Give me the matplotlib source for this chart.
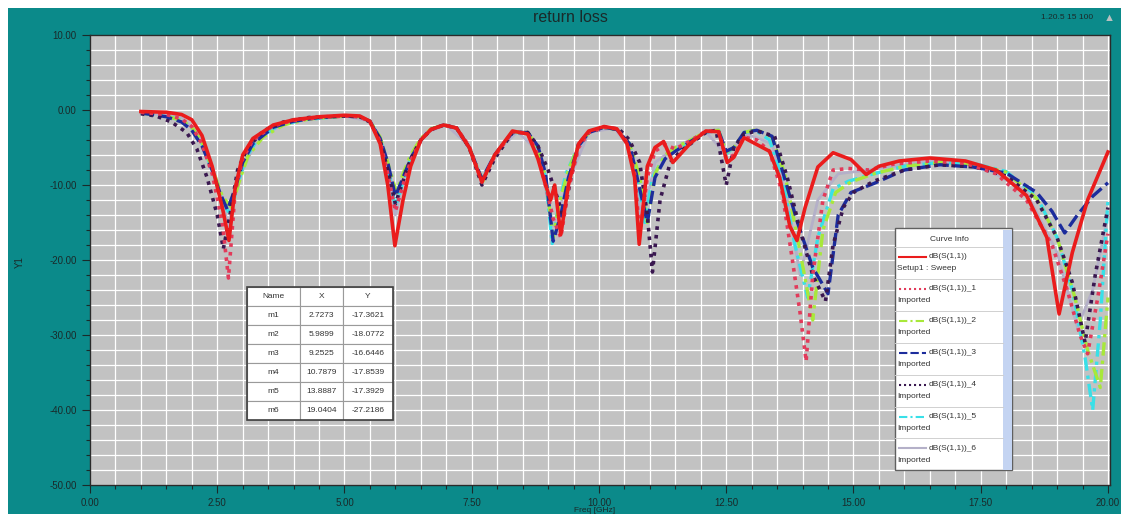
import numpy as np
import matplotlib
matplotlib.use("Agg")
import matplotlib.pyplot as plt
from matplotlib.patches import Rectangle
from matplotlib.lines import Line2D
from matplotlib.ticker import MultipleLocator, FormatStrFormatter

plt.rcParams['font.family'] = ['Liberation Sans', 'DejaVu Sans']

# ---- data (Freq GHz, dB) ----
f_sweep = [1.0, 1.5, 1.8, 2.0, 2.2, 2.4, 2.6, 2.73, 2.85, 3.0, 3.2, 3.6, 4.0, 4.5, 5.0, 5.3, 5.5, 5.7, 5.85, 5.99,
           6.15, 6.3, 6.5, 6.7, 6.95, 7.2, 7.45, 7.7, 7.95, 8.3, 8.6, 8.8, 8.95, 9.05, 9.13, 9.25, 9.4, 9.6, 9.8,
           10.1, 10.35, 10.55, 10.7, 10.79, 10.95, 11.1, 11.27, 11.45, 11.8, 12.1, 12.35, 12.52, 12.65, 12.85,
           13.1, 13.35, 13.55, 13.75, 13.89, 14.05, 14.3, 14.6, 14.95, 15.25, 15.5, 15.9, 16.5, 17.2, 17.8, 18.4,
           18.8, 19.04, 19.3, 19.6, 20.0]
db_sweep = [-0.2, -0.3, -0.6, -1.3, -3.4, -7.5, -13.0, -17.4, -10.5, -6.0, -3.8, -2.0, -1.3, -0.9, -0.7, -0.8,
            -1.5, -4.5, -10.0, -18.1, -12.0, -7.5, -4.0, -2.6, -2.0, -2.4, -5.0, -9.6, -6.0, -2.8, -3.2, -6.5,
            -10.0, -12.0, -10.0, -16.6, -10.0, -4.5, -2.8, -2.2, -2.5, -4.5, -9.0, -17.9, -7.5, -5.0, -4.2, -7.0,
            -4.4, -2.8, -2.9, -7.0, -6.3, -3.7, -4.6, -5.5, -9.0, -15.5, -17.4, -13.0, -7.6, -5.7, -6.6, -8.6,
            -7.5, -6.8, -6.4, -6.8, -8.0, -11.4, -17.0, -27.2, -19.0, -12.0, -5.6]

f_1 = [1.0, 1.5, 1.8, 2.0, 2.2, 2.4, 2.6, 2.72, 2.85, 3.0, 3.2, 3.6, 4.0, 4.5, 5.0, 5.3, 5.5, 5.7, 5.85, 6.0, 6.15,
       6.3, 6.5, 6.7, 6.95, 7.2, 7.45, 7.7, 7.95, 8.3, 8.6, 8.8, 8.95, 9.1, 9.25, 9.4, 9.6, 9.8, 10.1, 10.35, 10.55,
       10.7, 10.8, 10.95, 11.1, 11.3, 11.5, 11.8, 12.1, 12.35, 12.5, 12.65, 12.85, 13.1, 13.35, 13.6, 13.8, 13.95,
       14.07, 14.2, 14.4, 14.6, 14.9, 15.3, 15.8, 16.5, 17.2, 17.8, 18.4, 18.9, 19.2, 19.45, 19.6, 19.8, 20.0]
db_1 = [-0.3, -0.6, -1.2, -2.2, -4.5, -8.5, -15.0, -22.4, -11.0, -6.5, -4.0, -2.1, -1.4, -1.0, -0.8, -0.9, -1.6,
        -4.2, -8.5, -13.5, -10.0, -6.8, -4.0, -2.6, -2.0, -2.4, -4.8, -9.6, -6.2, -2.9, -3.1, -6.0, -10.0, -14.5,
        -17.0, -10.5, -5.0, -3.0, -2.3, -2.5, -4.3, -8.5, -16.5, -9.0, -5.5, -4.6, -5.2, -4.1, -2.8, -2.9, -6.5,
        -6.0, -3.6, -4.0, -5.5, -11.0, -20.0, -27.0, -33.5, -22.0, -12.0, -8.0, -7.8, -8.0, -7.2, -6.8, -7.1,
        -8.5, -12.0, -18.0, -24.0, -30.0, -32.5, -25.0, -16.5]

f_2 = [1.0, 1.5, 1.8, 2.0, 2.2, 2.4, 2.6, 2.78, 2.92, 3.1, 3.4, 3.8, 4.3, 5.0, 5.3, 5.5, 5.7, 5.85, 6.02, 6.15, 6.3,
       6.5, 6.7, 6.95, 7.2, 7.45, 7.72, 7.95, 8.3, 8.6, 8.8, 8.95, 9.1, 9.22, 9.4, 9.6, 9.8, 10.1, 10.35, 10.6, 10.8,
       10.95, 11.1, 11.3, 11.5, 11.8, 12.1, 12.35, 12.5, 12.65, 12.85, 13.1, 13.4, 13.65, 13.9, 14.2, 14.4, 14.65,
       14.95, 15.4, 16.0, 16.7, 17.4, 18.0, 18.6, 19.0, 19.35, 19.6, 19.85, 20.0]
db_2 = [-0.4, -0.8, -1.4, -2.3, -4.3, -7.8, -11.5, -13.0, -9.8, -6.2, -3.6, -2.0, -1.2, -0.8, -0.9, -1.5, -3.6,
        -7.0, -11.0, -8.5, -6.0, -3.8, -2.5, -2.0, -2.4, -5.0, -9.5, -6.0, -2.9, -3.0, -5.0, -9.0, -17.0, -12.5,
        -8.0, -4.7, -3.0, -2.3, -2.6, -4.5, -9.0, -15.0, -8.5, -6.0, -5.0, -4.0, -2.9, -2.7, -5.6, -5.0, -3.0,
        -2.6, -3.6, -8.5, -17.0, -28.0, -16.0, -11.0, -9.6, -8.5, -7.5, -7.0, -7.3, -8.3, -11.8, -17.0, -25.0,
        -32.0, -37.0, -25.0]

f_3 = [1.0, 1.5, 1.8, 2.0, 2.2, 2.4, 2.55, 2.7, 2.85, 3.0, 3.2, 3.6, 4.0, 4.5, 5.0, 5.3, 5.5, 5.7, 5.85, 6.0, 6.15,
       6.3, 6.5, 6.7, 6.95, 7.2, 7.45, 7.7, 7.95, 8.3, 8.6, 8.8, 8.95, 9.1, 9.25, 9.4, 9.6, 9.8, 10.1, 10.35, 10.6,
       10.75, 10.95, 11.1, 11.3, 11.5, 11.8, 12.1, 12.35, 12.5, 12.65, 12.85, 13.1, 13.4, 13.6, 13.9, 14.2, 14.5,
       14.7, 14.95, 15.4, 16.0, 16.7, 17.35, 18.0, 18.6, 18.9, 19.15, 19.4, 19.7, 20.0]
db_3 = [-0.4, -0.9, -1.6, -2.7, -4.8, -8.0, -11.0, -13.3, -10.5, -7.0, -4.5, -2.3, -1.5, -1.0, -0.8, -0.9, -1.5,
        -3.8, -7.0, -11.5, -9.0, -6.5, -4.0, -2.6, -2.0, -2.4, -5.0, -9.2, -6.0, -3.0, -3.0, -4.8, -8.5, -17.5,
        -14.0, -9.0, -4.8, -3.0, -2.3, -2.6, -4.5, -9.0, -15.0, -9.0, -6.5, -5.5, -4.2, -2.9, -2.8, -5.5, -5.0,
        -3.0, -2.7, -3.5, -8.0, -15.0, -21.0, -24.5, -14.0, -11.0, -9.8, -8.0, -7.3, -7.6, -8.4, -11.0, -13.5,
        -16.4, -14.0, -11.5, -9.7]

f_4 = [1.0, 1.3, 1.6, 1.9, 2.1, 2.3, 2.5, 2.62, 2.75, 2.9, 3.1, 3.4, 3.8, 4.3, 5.0, 5.3, 5.5, 5.7, 5.85, 6.0, 6.15,
       6.3, 6.5, 6.7, 6.95, 7.2, 7.45, 7.7, 7.95, 8.3, 8.6, 8.8, 9.0, 9.15, 9.3, 9.45, 9.6, 9.8, 10.1, 10.4, 10.6,
       10.8, 10.95, 11.05, 11.2, 11.4, 11.6, 11.8, 12.1, 12.3, 12.5, 12.65, 12.85, 13.1, 13.45, 13.7, 13.95, 14.2,
       14.45, 14.6, 14.8, 15.0, 15.4, 16.0, 16.7, 17.4, 18.0, 18.6, 19.0, 19.3, 19.55, 19.75, 20.0]
db_4 = [-0.5, -0.8, -1.6, -3.0, -5.2, -9.0, -14.0, -18.5, -14.0, -8.0, -5.0, -2.8, -1.6, -1.0, -0.8, -0.9, -1.6,
        -4.0, -8.0, -12.5, -9.5, -6.5, -4.0, -2.6, -2.0, -2.4, -5.0, -10.0, -6.5, -3.0, -3.0, -4.8, -8.0, -11.0,
        -14.3, -9.0, -4.5, -3.0, -2.3, -2.6, -4.0, -7.0, -14.0, -21.6, -12.0, -7.0, -5.5, -4.5, -3.0, -2.7, -10.0,
        -5.0, -3.2, -2.8, -3.5, -9.0, -16.0, -22.0, -25.5, -18.0, -13.0, -11.0, -9.5, -8.0, -7.3, -7.6, -8.8,
        -12.0, -17.0, -23.0, -31.0, -22.0, -13.0]

f_5 = [1.0, 1.5, 1.8, 2.0, 2.2, 2.4, 2.6, 2.75, 2.9, 3.05, 3.3, 3.7, 4.2, 5.0, 5.3, 5.5, 5.7, 5.85, 6.0, 6.15, 6.3,
       6.5, 6.7, 6.95, 7.2, 7.45, 7.7, 7.95, 8.3, 8.6, 8.8, 8.95, 9.08, 9.2, 9.35, 9.6, 9.8, 10.1, 10.35, 10.6, 10.75,
       10.9, 11.05, 11.3, 11.5, 11.8, 12.1, 12.35, 12.5, 12.65, 12.85, 13.1, 13.35, 13.6, 13.85, 14.1, 14.3, 14.6,
       14.9, 15.4, 16.0, 16.7, 17.4, 18.0, 18.6, 19.0, 19.3, 19.55, 19.7, 19.85, 20.0]
db_5 = [-0.4, -0.8, -1.4, -2.4, -4.5, -8.0, -12.0, -14.0, -10.0, -6.5, -3.8, -2.1, -1.3, -0.8, -0.9, -1.5, -3.8,
        -7.5, -13.0, -9.5, -6.5, -4.0, -2.6, -2.0, -2.4, -5.0, -9.4, -6.0, -3.0, -3.0, -5.0, -9.0, -17.8, -13.0,
        -8.5, -4.8, -3.0, -2.3, -2.6, -4.5, -8.5, -15.0, -9.0, -6.0, -5.2, -4.2, -2.9, -2.7, -5.8, -5.0, -3.0,
        -2.8, -4.0, -9.0, -18.0, -25.0, -17.0, -10.5, -9.5, -8.5, -7.5, -7.0, -7.2, -8.2, -11.5, -17.0, -24.0,
        -33.0, -40.0, -28.0, -12.0]

f_6 = [1.0, 1.8, 2.2, 2.5, 2.72, 2.9, 3.3, 4.0, 5.0, 5.5, 5.8, 6.0, 6.2, 6.6, 7.0, 7.45, 7.7, 8.0, 8.4, 8.8, 9.1,
       9.4, 9.8, 10.3, 10.6, 10.85, 11.1, 11.5, 12.1, 12.5, 12.9, 13.4, 13.7, 13.95, 14.3, 14.7, 15.3, 16.5, 17.5,
       18.4, 19.0, 19.4, 19.7, 20.0]
db_6 = [-0.3, -1.0, -3.8, -9.5, -15.5, -9.5, -3.6, -1.3, -0.8, -1.5, -6.0, -14.0, -8.0, -3.0, -2.0, -4.8, -9.6,
        -5.5, -2.9, -5.5, -15.5, -9.5, -3.0, -2.4, -5.0, -15.0, -7.0, -5.0, -2.9, -6.0, -3.2, -4.5, -12.0, -22.0,
        -12.0, -8.5, -8.0, -6.8, -7.3, -11.0, -19.0, -29.0, -24.0, -14.0]

marker_names = ['m1', 'm2', 'm3', 'm4', 'm5', 'm6']
marker_x = ['2.7273', '5.9899', '9.2525', '10.7879', '13.8887', '19.0404']
marker_y = ['-17.3621', '-18.0772', '-16.6446', '-17.8539', '-17.3929', '-27.2186']

legend_top = ['dB(S(1,1))', 'dB(S(1,1))_1', 'dB(S(1,1))_2', 'dB(S(1,1))_3',
              'dB(S(1,1))_4', 'dB(S(1,1))_5', 'dB(S(1,1))_6']
legend_bottom = ['Setup1 : Sweep', 'Imported', 'Imported', 'Imported', 'Imported', 'Imported', 'Imported']

# ---- figure ----
W, H = 1129, 516
fig = plt.figure(figsize=(W / 100, H / 100), dpi=100, facecolor='white')


def px(x, y):
    return x / W, 1 - y / H


teal = '#0b8a8a'
fig.add_artist(Rectangle(px(8, 514), 1113 / W, 506 / H, transform=fig.transFigure,
                         facecolor=teal, edgecolor='none', zorder=-5))

ax = fig.add_axes([90 / W, 1 - 485 / H, 1020 / W, 450 / H])
ax.set_facecolor('#c2c2c2')
ax.set_xlim(0, 20.04)
ax.set_ylim(-50, 10)

ax.xaxis.set_major_locator(MultipleLocator(2.5))
ax.xaxis.set_minor_locator(MultipleLocator(0.5))
ax.yaxis.set_major_locator(MultipleLocator(10))
ax.yaxis.set_minor_locator(MultipleLocator(2))
ax.xaxis.set_major_formatter(FormatStrFormatter('%.2f'))
ax.yaxis.set_major_formatter(FormatStrFormatter('%.2f'))
ax.grid(which='both', color='white', lw=0.9)
ax.set_axisbelow(True)
ax.tick_params(which='major', length=6, width=0.8, colors='#1a2a2a', labelsize=7, direction='out')
ax.tick_params(which='minor', length=3, width=0.8, colors='#1a2a2a', direction='out')
for s in ax.spines.values():
    s.set_color('#2a2a2a')
    s.set_linewidth(1.0)

styles = [
    (f_6, db_6, dict(color='#b4b0c8', lw=2.0, ls='-')),
    (f_5, db_5, dict(color='#38e0e8', lw=2.4, ls=(0, (4, 1.5, 1, 1.5)))),
    (f_2, db_2, dict(color='#a8e83a', lw=2.4, ls=(0, (4, 1.5, 1, 1.5)))),
    (f_3, db_3, dict(color='#1c2c9c', lw=2.4, ls=(0, (4, 1.5)))),
    (f_4, db_4, dict(color='#3a1850', lw=2.6, ls=(0, (1, 1.4)))),
    (f_1, db_1, dict(color='#e23a5a', lw=2.6, ls=(0, (1, 1.4)))),
    (f_sweep, db_sweep, dict(color='#ea1c1c', lw=2.6, ls='-')),
]
for fx, dby, st in styles:
    ax.plot(fx, dby, solid_joinstyle='round', **st)

# marker table
cells = [[n, x, y] for n, x, y in zip(marker_names, marker_x, marker_y)]
tab = ax.table(cellText=cells, colLabels=['Name', 'X', 'Y'], cellLoc='center',
               colWidths=[53, 43, 50], bbox=[157 / 1020, 65 / 450, 146 / 1020, 133 / 450])
tab.set_zorder(20)
tab.auto_set_font_size(False)
tab.set_fontsize(6)
for (r, c), cell in tab.get_celld().items():
    cell.set_edgecolor('#9a9a9a')
    cell.set_linewidth(0.8)
    cell.set_facecolor('white')
    cell.get_text().set_color('#333333')
ax.add_patch(Rectangle((157 / 1020, 65 / 450), 146 / 1020, 133 / 450, transform=ax.transAxes,
                       fill=False, edgecolor='#404040', lw=1.2, zorder=21))

# curve info box
x0, x1, xs = 895, 1003, 1012
y0, y1 = 228, 470
fig.add_artist(Rectangle(px(x0, y1), (xs - x0) / W, (y1 - y0) / H, transform=fig.transFigure,
                         facecolor='white', edgecolor='#606060', lw=1.0, zorder=5))
fig.add_artist(Rectangle(px(x1, y1), (xs - x1) / W, (y1 - y0 - 2) / H, transform=fig.transFigure,
                         facecolor='#c4d4f2', edgecolor='none', zorder=6))
fig.text(*px((x0 + x1) / 2, 240), 'Curve Info', ha='center', va='center', fontsize=6, color='#333333', zorder=7)
row_h = 31.9
order = [6, 5, 2, 3, 4, 1, 0]
for i, (top, bot) in enumerate(zip(legend_top, legend_bottom)):
    yt = 247 + i * row_h
    fig.add_artist(Line2D([x0 / W, x1 / W], [1 - yt / H] * 2, transform=fig.transFigure,
                          color='#d0d0d0', lw=0.7, zorder=7))
    st = dict(styles[order[i]][2])
    st['lw'] = 1.5
    fig.add_artist(Line2D([899 / W, 926 / W], [1 - (yt + 10) / H] * 2, transform=fig.transFigure,
                          zorder=7, **st))
    fig.text(*px(929, yt + 10), top, ha='left', va='center', fontsize=6, color='#333333', zorder=7)
    fig.text(*px(897, yt + 22), bot, ha='left', va='center', fontsize=6, color='#333333', zorder=7)

# texts
fig.text(*px(570, 18), 'return loss', ha='center', va='center', fontsize=11.5, color='#1a2a2a')
fig.text(*px(1093, 17), '1.20.5 15 100', ha='right', va='center', fontsize=6, color='#1a2a2a')
fig.text(*px(1109, 18), '\u25B2', ha='center', va='center', fontsize=8, color='#b8c0c0')
fig.text(*px(20, 262), 'Y1', ha='center', va='center', fontsize=7, rotation=90, color='#1a2a2a')
fig.text(*px(595, 510), 'Freq [GHz]', ha='center', va='center', fontsize=6, color='#1a2a2a')

fig.savefig('out.png', dpi=100, facecolor='white')
